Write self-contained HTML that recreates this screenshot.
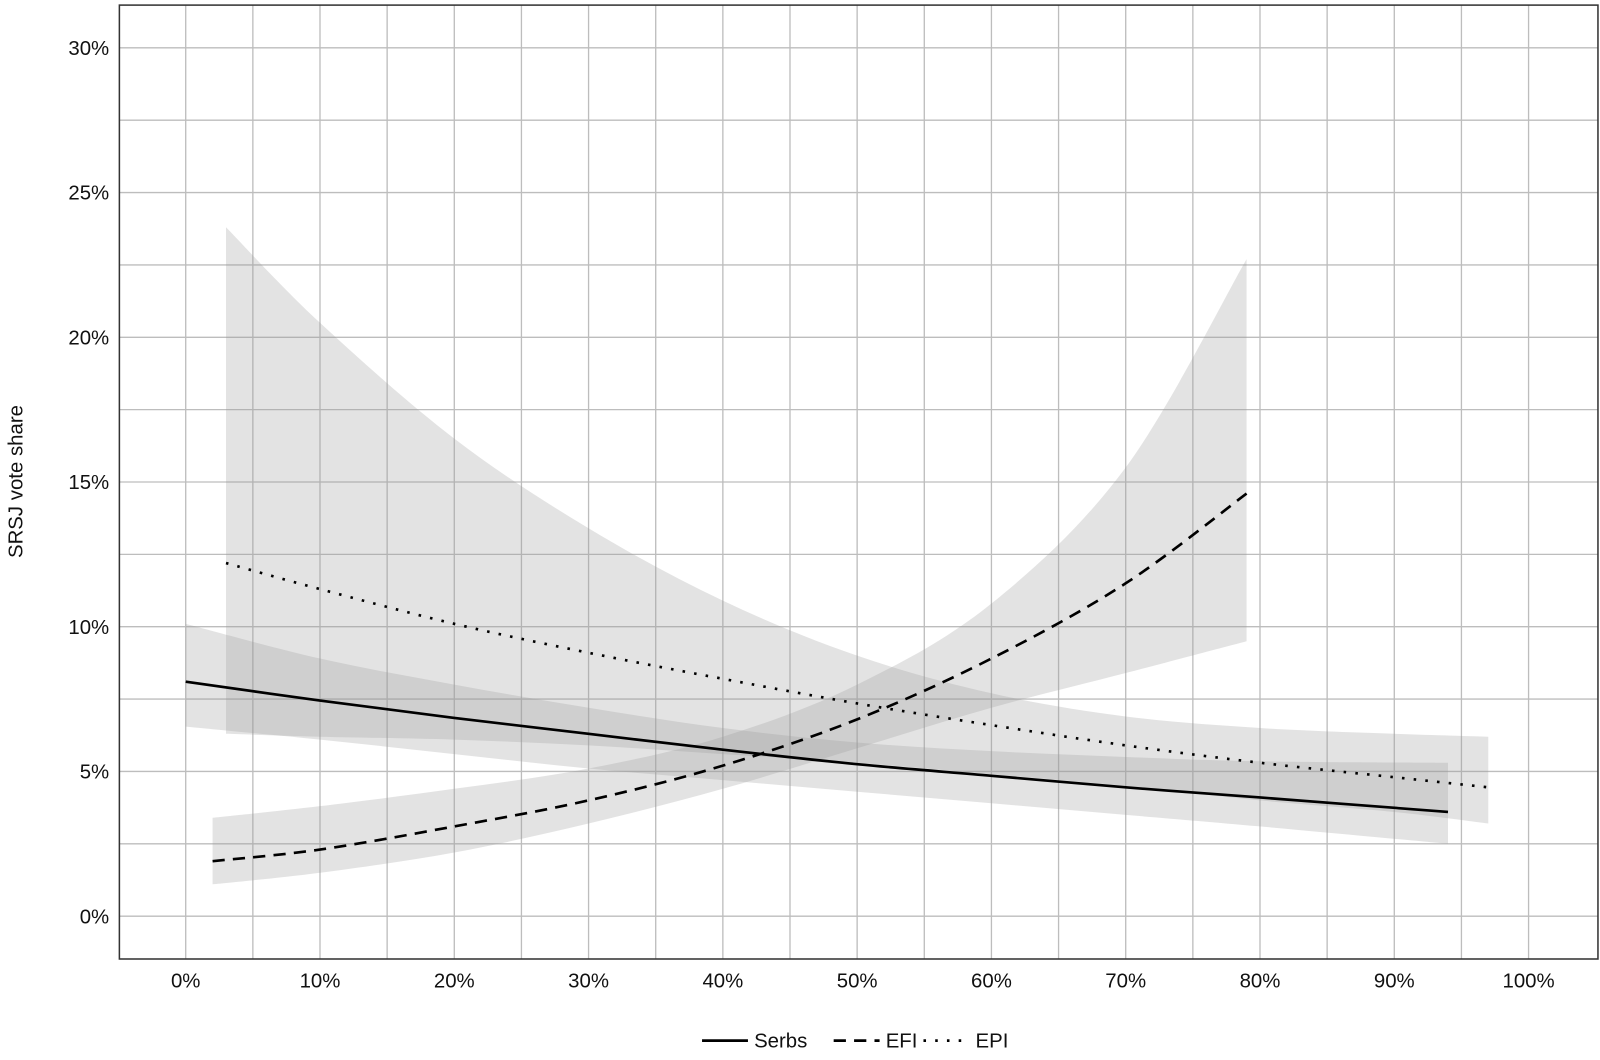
<!DOCTYPE html>
<html><head><meta charset="utf-8"><style>
body{margin:0;background:#fff;}
svg{display:block;font-family:"Liberation Sans",sans-serif;}
</style></head><body>
<svg id="chart" width="1600" height="1060" viewBox="0 0 1568 1039" preserveAspectRatio="none"></svg>
<script>
const xTicks=[0,10,20,30,40,50,60,70,80,90,100];
const yTicks=[0,5,10,15,20,25,30];
const serbsX=[0,10,20,30,40,50,60,70,80,94];
const serbsY=[8.1,7.45,6.85,6.3,5.75,5.25,4.85,4.45,4.1,3.6];
const serbsHi=[10.1,8.9,8.0,7.2,6.5,6.0,5.7,5.5,5.35,5.3];
const serbsLo=[6.55,6.1,5.6,5.1,4.7,4.3,3.9,3.5,3.1,2.5];
const efiX=[2,10,20,30,40,50,60,70,79];
const efiY=[1.9,2.3,3.1,4.0,5.2,6.8,8.9,11.5,14.6];
const efiHi=[3.4,3.8,4.4,5.1,6.2,8.0,10.8,15.5,22.7];
const efiLo=[1.1,1.5,2.2,3.2,4.4,5.8,7.2,8.4,9.5];
const epiX=[3,10,20,30,40,50,60,70,80,90,97];
const epiY=[12.2,11.3,10.1,9.1,8.2,7.35,6.6,5.9,5.3,4.8,4.45];
const epiHi=[23.8,20.5,16.5,13.4,10.9,9.0,7.7,6.9,6.5,6.3,6.2];
const epiLo=[6.3,6.2,6.1,5.9,5.6,5.3,4.9,4.5,4.0,3.6,3.2];

const NS="http://www.w3.org/2000/svg";
const svg=document.getElementById('chart');
const L=117,R=1566,T=5,B=940;
const sx=v=>182+v*13.16;
const sy=v=>898-v*28.37;
function mk(t,a,p){const e=document.createElementNS(NS,t);for(const k in a)e.setAttribute(k,a[k]);(p||svg).appendChild(e);return e;}
// smooth path through points (catmull-rom), without initial M
function smooth(pts){
  let d='';
  for(let i=0;i<pts.length-1;i++){
    const p0=pts[Math.max(0,i-1)],p1=pts[i],p2=pts[i+1],p3=pts[Math.min(pts.length-1,i+2)];
    const c1=[p1[0]+(p2[0]-p0[0])/6,p1[1]+(p2[1]-p0[1])/6];
    const c2=[p2[0]-(p3[0]-p1[0])/6,p2[1]-(p3[1]-p1[1])/6];
    d+='C'+c1[0]+','+c1[1]+' '+c2[0]+','+c2[1]+' '+p2[0]+','+p2[1];
  }
  return d;
}
const g=mk('g',{});


for(let v=0;v<=100;v+=5){mk('line',{x1:sx(v),x2:sx(v),y1:T,y2:B,stroke:'#bdbdbd','stroke-width':1.3},g);}
for(let v=0;v<=31;v+=2.5){mk('line',{x1:L,x2:R,y1:sy(v),y2:sy(v),stroke:'#bdbdbd','stroke-width':1.3},g);}
function band(xs,hi,lo,name){
  const up=xs.map((x,i)=>[sx(x),sy(hi[i])]);
  const dn=xs.map((x,i)=>[sx(x),sy(lo[i])]).reverse();
  const d='M'+up[0][0]+','+up[0][1]+smooth(up)+'L'+dn[0][0]+','+dn[0][1]+smooth(dn)+'Z';
  const p=mk('path',{d:d,fill:'#9a9a9a','fill-opacity':0.28});
  
  
}
band(serbsX,serbsHi,serbsLo,'serbs-ci-band');
band(efiX,efiHi,efiLo,'efi-ci-band');
band(epiX,epiHi,epiLo,'epi-ci-band');
function line(xs,ys,dash,name){
  const pts=xs.map((x,i)=>[sx(x),sy(ys[i])]);
  const p=mk('path',{d:'M'+pts[0][0]+','+pts[0][1]+smooth(pts),fill:'none',stroke:'#000','stroke-width':2.6,'stroke-dasharray':dash});
  
  
}
line(serbsX,serbsY,'none','serbs-line');
line(efiX,efiY,'12 8','efi-line');
line(epiX,epiY,'2.5 9','epi-line');
const fr=mk('rect',{x:L,y:T,width:R-L,height:B-T,fill:'none',stroke:'#333','stroke-width':1.5});


xTicks.forEach(v=>{const t=mk('text',{x:sx(v),y:968,'text-anchor':'middle','font-size':20,fill:'#111'});t.textContent=v+'%';

});
yTicks.forEach(v=>{const t=mk('text',{x:107,y:sy(v)+7,'text-anchor':'end','font-size':20,fill:'#111'});t.textContent=v+'%';

});
const yt=mk('text',{x:22,y:472,'text-anchor':'middle','font-size':20,fill:'#111',transform:'rotate(-90 22 472)'});
yt.textContent='SRSJ vote share';


const leg=[['Serbs','none',688],['EFI','12 8',817],['EPI','2.5 9',905]];
leg.forEach(([n,d,x])=>{
  const gg=mk('g',{});
  
  
  mk('line',{x1:x,x2:x+45,y1:1020,y2:1020,stroke:'#000','stroke-width':2.6,'stroke-dasharray':d},gg);
  const t=mk('text',{x:x+51,y:1027,'font-size':20,fill:'#111'},gg);t.textContent=n;
});
</script>
</body></html>
